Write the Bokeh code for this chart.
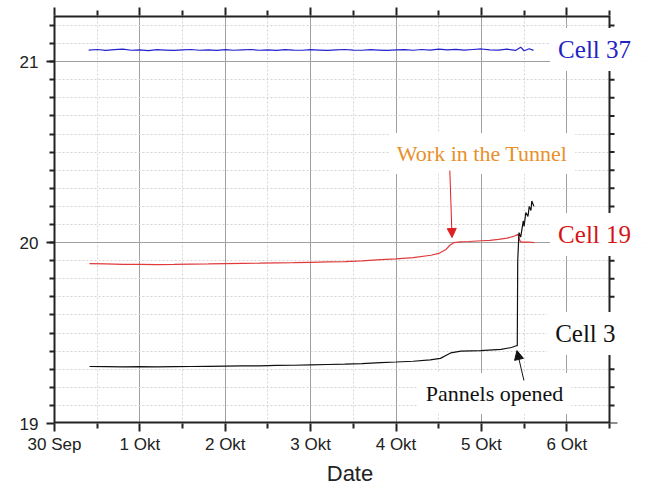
from bokeh.plotting import figure
from bokeh.models import (LinearAxis, FixedTicker, Range1d, Label, Arrow, NormalHead,
                          BoxAnnotation)
from bokeh.embed import file_html
from bokeh.resources import INLINE

# ---------------- data (x = days after 30 Sep 00:00) ----------------
tick_days = [0, 1, 2, 3, 4, 5, 6]
tick_labels = ["30 Sep", "1 Okt", "2 Okt", "3 Okt", "4 Okt", "5 Okt", "6 Okt"]
y_ticks = [19, 20, 21]

cell37_t = [0.40, 0.50, 0.60, 0.70, 0.80, 0.90, 1.00, 1.10, 1.20, 1.30,
            1.40, 1.50, 1.60, 1.70, 1.80, 1.90, 2.00, 2.10, 2.20, 2.30,
            2.40, 2.50, 2.60, 2.70, 2.80, 2.90, 3.00, 3.10, 3.20, 3.30,
            3.40, 3.50, 3.60, 3.70, 3.80, 3.90, 4.00, 4.10, 4.20, 4.30,
            4.40, 4.50, 4.60, 4.70, 4.80, 4.90, 5.00, 5.10, 5.20, 5.30,
            5.40, 5.46, 5.50, 5.56, 5.61]
cell37_v = [21.064, 21.067, 21.062, 21.066, 21.069, 21.063, 21.065, 21.061, 21.066, 21.064,
            21.062, 21.065, 21.067, 21.063, 21.065, 21.062, 21.066, 21.063, 21.065, 21.067,
            21.063, 21.065, 21.062, 21.066, 21.064, 21.063, 21.066, 21.064, 21.062, 21.065,
            21.067, 21.064, 21.063, 21.066, 21.064, 21.062, 21.065, 21.066, 21.063, 21.067,
            21.064, 21.069, 21.065, 21.068, 21.064, 21.067, 21.070, 21.065, 21.064, 21.069,
            21.062, 21.080, 21.060, 21.071, 21.062]

cell19_t = [0.41, 0.60, 0.80, 1.00, 1.20, 1.40, 1.60, 1.80, 2.00, 2.20,
            2.40, 2.60, 2.80, 3.00, 3.20, 3.40, 3.60, 3.82, 4.00, 4.20,
            4.41, 4.50, 4.58, 4.63, 4.68, 4.75, 4.85, 5.00, 5.10, 5.20,
            5.30, 5.38, 5.43, 5.45, 5.47, 5.55, 5.62]
cell19_v = [19.884, 19.882, 19.880, 19.879, 19.878, 19.879, 19.881, 19.882, 19.884, 19.885,
            19.886, 19.888, 19.889, 19.891, 19.893, 19.895, 19.899, 19.906, 19.910, 19.917,
            19.930, 19.940, 19.960, 19.985, 20.000, 20.004, 20.006, 20.010, 20.012, 20.018,
            20.025, 20.035, 20.045, 20.010, 20.002, 20.003, 20.000]

cell3_t = [0.41, 0.60, 0.80, 1.00, 1.20, 1.40, 1.60, 1.80, 2.00, 2.20,
           2.40, 2.60, 2.80, 3.00, 3.20, 3.40, 3.60, 3.82, 4.00, 4.20,
           4.40, 4.52, 4.60, 4.64, 4.76, 4.99, 5.23, 5.35, 5.41, 5.42,
           5.425, 5.44, 5.46, 5.49, 5.50, 5.52, 5.545, 5.56, 5.58, 5.59, 5.615]
cell3_v = [19.315, 19.314, 19.313, 19.314, 19.313, 19.314, 19.315, 19.316, 19.317, 19.318,
           19.319, 19.321, 19.322, 19.324, 19.326, 19.328, 19.331, 19.337, 19.340, 19.344,
           19.352, 19.360, 19.380, 19.390, 19.400, 19.403, 19.410, 19.420, 19.430, 19.430,
           19.900, 20.055, 20.030, 20.120, 20.090, 20.166, 20.144, 20.200, 20.177, 20.230, 20.200]

# ---------------- layout constants ----------------
X_END = 6.5          # right edge of the drawn axes box
Y_START, Y_END = 19, 21.255
PX_PER_DAY = 555 / 6.5
PX_PER_UNIT = 408 / (Y_END - Y_START)
FRAME_W = 649 - 54 - 4
x_view_end = FRAME_W / PX_PER_DAY   # frame extends past the box to host the labels

p = figure(width=649, height=489, output_backend="svg", toolbar_location=None,
           x_range=Range1d(0, x_view_end), y_range=Range1d(Y_START, Y_END),
           min_border_left=54, min_border_right=4, min_border_top=15, min_border_bottom=66,
           background_fill_color="white", border_fill_color="white")
p.outline_line_color = None

p.add_layout(LinearAxis(), "above")

xticker = FixedTicker(ticks=tick_days, minor_ticks=[d + 0.5 for d in tick_days])
yminor = [round(19 + 0.1 * i, 1) for i in range(1, 23)]
yticker = FixedTicker(ticks=y_ticks, minor_ticks=yminor)

for ax in p.xaxis:
    ax.ticker = xticker
for ax in p.yaxis:
    ax.ticker = yticker

for ax in p.xaxis + p.yaxis:
    ax.axis_line_width = 2
    ax.axis_line_color = "#222222"
    ax.major_tick_line_color = "#222222"
    ax.minor_tick_line_color = "#222222"
    ax.major_tick_line_width = 2
    ax.minor_tick_line_width = 2
    ax.major_tick_in = 0
    ax.major_tick_out = 8
    ax.minor_tick_in = 0
    ax.minor_tick_out = 5
    ax.major_label_text_font = "Liberation Sans"
    ax.major_label_text_font_size = "17px"
    ax.major_label_text_color = "#222222"

bottom = p.below[0]
left = p.left[0]
top = p.above[0]
bottom.axis_line_color = None
top.axis_line_color = None
bottom.major_label_overrides = dict(zip(tick_days, tick_labels))
bottom.axis_label = "Date"
bottom.axis_label_text_font = "Liberation Sans"
bottom.axis_label_text_font_size = "22px"
bottom.axis_label_text_font_style = "normal"
bottom.axis_label_text_color = "#222222"
bottom.axis_label_standoff = 4
bottom.major_label_standoff = 3
left.major_label_standoff = 8
top.major_label_text_font_size = "0px"
top.major_label_text_color = None
top.major_label_standoff = 0

for g, t in ((p.xgrid[0], xticker), (p.ygrid[0], yticker)):
    g.ticker = t
    g.grid_line_color = "#a0a0a0"
    g.grid_line_width = 1
    g.minor_grid_line_color = "#d4d4d4"
    g.minor_grid_line_dash = "2 2"
    g.minor_grid_line_width = 1

# white area right of the axes box (hides grid there)
p.add_layout(BoxAnnotation(left=X_END, fill_color="white", fill_alpha=1,
                           line_color=None, level="underlay"))

# axes box lines (bottom/top sit on the frame edge, so twice as wide)
p.segment(x0=[0, 0], y0=[Y_START, Y_END], x1=[X_END, X_END], y1=[Y_START, Y_END],
          line_color="#222222", line_width=4)
p.segment(x0=[X_END], y0=[Y_START], x1=[X_END], y1=[Y_END],
          line_color="#222222", line_width=2)
# right-hand ticks, pointing outward
p.segment(x0=[X_END] * len(y_ticks), y0=y_ticks,
          x1=[X_END + 8 / PX_PER_DAY] * len(y_ticks), y1=y_ticks,
          line_color="#222222", line_width=2)
p.segment(x0=[X_END] * len(yminor), y0=yminor,
          x1=[X_END + 5 / PX_PER_DAY] * len(yminor), y1=yminor,
          line_color="#222222", line_width=2)

p.line(cell37_t, cell37_v, line_color="#2222cc", line_width=1.2)
p.line(cell19_t, cell19_v, line_color="#e03a3a", line_width=1.2)
p.line(cell3_t, cell3_v, line_color="#111111", line_width=1.2)

# label anchors are the box corner; shift by padding so text lands where wanted
PAD = 8
DX = -9 / PX_PER_DAY
DY = 9 / PX_PER_UNIT
label_kw = dict(text_font="Liberation Serif", background_fill_color="white",
                padding=PAD, text_baseline="alphabetic")
p.add_layout(Label(x=5.91 + DX, y=21.017 + DY, text="Cell 37", text_font_size="25px",
                   text_color="#2323c0", **label_kw))
p.add_layout(Label(x=5.91 + DX, y=19.9945 + DY, text="Cell 19", text_font_size="25px",
                   text_color="#d41515", **label_kw))
p.add_layout(Label(x=5.875 + DX, y=19.4475 + DY, text="Cell 3", text_font_size="25px",
                   text_color="#111111", **label_kw))
p.add_layout(Label(x=4.021 + DX, y=20.442 + DY, text="Work in the Tunnel", text_font_size="22px",
                   text_color="#e8902c", **label_kw))
p.add_layout(Label(x=4.36 + DX, y=19.116 + DY, text="Pannels opened", text_font_size="22px",
                   text_color="#111111", **label_kw))

p.add_layout(Arrow(end=NormalHead(size=9, fill_color="#e02020", line_color="#e02020"),
                   x_start=4.63, y_start=20.398, x_end=4.656, y_end=20.028,
                   line_color="#e02020", line_width=1))
p.add_layout(Arrow(end=NormalHead(size=9, fill_color="#111111", line_color="#111111"),
                   x_start=5.498, y_start=19.238, x_end=5.416, y_end=19.403,
                   line_color="#111111", line_width=1))

open("out.html", "w").write(file_html(p, INLINE))
